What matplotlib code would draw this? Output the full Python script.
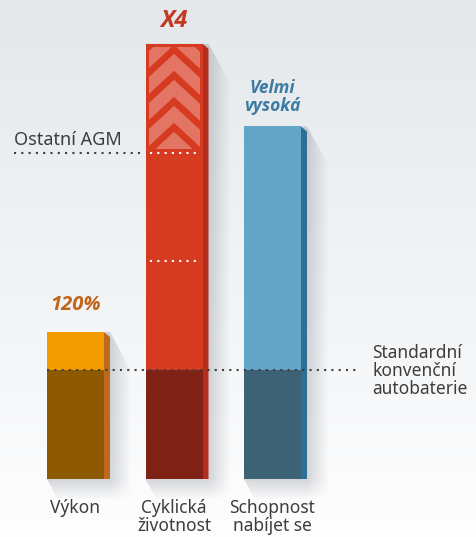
import numpy as np
import matplotlib.pyplot as plt
from matplotlib.patches import Polygon, Rectangle

plt.rcParams['font.family'] = ['Noto Sans', 'DejaVu Sans']

# data (1.0 = standard conventional battery)
categories = ['Výkon', 'Cyklická\nživotnost', 'Schopnost\nnabíjet se']
values = [1.35, 4.0, 3.24]
value_labels = ['120%', 'X4', 'Velmi\nvysoká']
base_level = 1.0   # Standardní konvenční autobaterie
agm_level = 3.0    # Ostatní AGM
mid_level = 2.0

light_colors = ['#f39c00', '#d63a20', '#63a5c6']
dark_colors = ['#8e5a00', '#7f2114', '#3d6276']
side_colors = ['#c0691c', '#b52d1c', '#2f6f96']
label_colors = ['#c0651a', '#c23a22', '#3b7ba4']
text_color = '#3d3d3d'

W, H = 476, 537
fig = plt.figure(figsize=(W / 100, H / 100), dpi=100)
ax = fig.add_axes([0, 0, 1, 1])

# pixel scale of the axes
px_x, px_y = 98.5, 108.8
x0_px, base_px = 75.5, 58
sx, sy = 1 / px_x, 1 / px_y
xlim = (-x0_px / px_x, (W - x0_px) / px_x)
ylim = (-base_px / px_y, (H - base_px) / px_y)


def py(p):
    # pixel row from top -> data y
    return (H - base_px - p) / px_y


# background gradient
top = np.array([0.894, 0.910, 0.922])
bot = np.array([0.995, 0.995, 0.997])
t = np.linspace(0, 1, 256)[:, None]
grad = (top * (1 - t) + bot * t)[:, None, :]
ax.imshow(grad, extent=[xlim[0], xlim[1], ylim[0], ylim[1]], aspect='auto', zorder=0)

x = np.arange(len(values))
width = 57 * sx
side_w = 6 * sx

for i, v in enumerate(values):
    xl = x[i] - width / 2
    xr = x[i] + width / 2
    xs = xr + side_w
    # soft shadow
    dx, dy, db = 22 * sx, 40 * sy, 22 * sy
    verts = [(xl, v), (xs, v), (xs + dx, v - dy), (xs + dx, -db),
             (xl + 12 * sx, -db), (xl, 0)]
    shp = Polygon(verts, closed=True, transform=ax.transData)
    gx = np.linspace(xl, xs + dx, 120)
    gy = np.linspace(-db, v, 300)
    GX, GY = np.meshgrid(gx, gy)
    a = np.clip(1 - (GX - xs) / dx, 0, 1)
    a = np.where(GX < xs, 1.0, a)
    a = a * np.where(GY < 0, np.clip(1 + GY / db, 0, 1), 1.0)
    rgba = np.zeros(GX.shape + (4,))
    rgba[..., :3] = [0.38, 0.41, 0.45]
    rgba[..., 3] = 0.26 * a
    im = ax.imshow(rgba, extent=[xl, xs + dx, -db, v], origin='lower',
                   aspect='auto', zorder=1)
    im.set_clip_path(shp)
    # side strip
    ax.add_patch(Polygon([(xr, 0), (xr, v), (xs, v - 5 * sy), (xs, 0)],
                         closed=True, color=side_colors[i], lw=0, zorder=2))

ax.bar(x, [base_level] * len(x), width, color=dark_colors, zorder=3)
ax.bar(x, np.array(values) - base_level, width, bottom=base_level,
       color=light_colors, zorder=3)

# chevrons on the red bar
i = 1
clip = Rectangle((x[i] - width / 2 + 3 * sx, agm_level + 4 * sy),
                 width - 6 * sx, values[i] - agm_level - 7 * sy,
                 transform=ax.transData)
hw, hh, th = 40 * sx, 37 * sy, 17 * sy
for k in range(-1, 5):
    yt = values[i] - 10 * sy - 26 * k * sy
    cx = x[i]
    pts = [(cx - hw, yt - hh), (cx, yt), (cx + hw, yt - hh),
           (cx + hw, yt - hh - th), (cx, yt - th), (cx - hw, yt - hh - th)]
    ch = Polygon(pts, closed=True, color='white', alpha=0.3, lw=0, zorder=4)
    ax.add_patch(ch)
    ch.set_clip_path(clip)

# dotted reference lines
dots = dict(ls=(0, (1, 2.5)), lw=1.5, zorder=5, solid_capstyle='butt')
ax.plot([(14 - x0_px) * sx, x[1] - width / 2 - 3 * sx], [agm_level] * 2,
        color=text_color, **dots)
ax.plot([x[1] - width / 2 + 4 * sx, x[1] + width / 2 - 2 * sx], [agm_level] * 2,
        color='white', **dots)
ax.plot([x[1] - width / 2 + 4 * sx, x[1] + width / 2 - 2 * sx], [mid_level] * 2,
        color='white', **dots)
ax.plot([x[0] - width / 2, (357 - x0_px) * sx], [base_level] * 2,
        color=text_color, **dots)

# value labels
label_rows = [305, 21, 97]
label_sizes = [14.5, 17, 12.5]
for i, lab in enumerate(value_labels):
    ax.text(x[i], py(label_rows[i]), lab, ha='center', va='center',
            fontsize=label_sizes[i], fontweight='bold', style='italic',
            family=['Open Sans', 'DejaVu Sans'],
            color=label_colors[i], linespacing=1.0, zorder=6)

# category labels
for i, cat in enumerate(categories):
    ax.text(x[i], py(499), cat, ha='center', va='top', fontsize=12.5,
            color=text_color, linespacing=0.98, zorder=6)

ax.text((14 - x0_px) * sx, py(140), 'Ostatní AGM', ha='left', va='center',
        fontsize=13, color=text_color, zorder=6)
ax.text((372 - x0_px) * sx, py(371), 'Standardní\nkonvenční\nautobaterie',
        ha='left', va='center', fontsize=12.5, color=text_color,
        linespacing=0.98, zorder=6)

ax.set_xlim(*xlim)
ax.set_ylim(*ylim)
ax.axis('off')

fig.savefig('out.png', dpi=100)
